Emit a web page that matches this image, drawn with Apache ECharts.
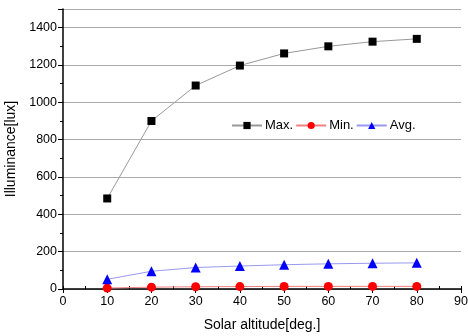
<!DOCTYPE html>
<html><head><meta charset="utf-8">
<script src="https://cdn.jsdelivr.net/npm/echarts@6/dist/echarts.min.js"></script>
<style>html,body{margin:0;padding:0;background:#fff}#c{width:468px;height:336px}</style>
</head><body><div id="c"></div>
<script>
const altitudes = [10, 20, 30, 40, 50, 60, 70, 80];
const maxVals = [485, 900, 1090, 1197, 1262, 1300, 1325, 1340];
const minVals = [5, 10, 12, 13, 14, 14, 14, 14];
const avgVals = [52, 95, 115, 123, 130, 135, 138, 140];
const seriesNames = ['Max.', 'Min.', 'Avg.'];

const pairs = v => altitudes.map((a, i) => [a, v[i]]);
const font = 'Liberation Sans, Arial, sans-serif';
const chart = echarts.init(document.getElementById('c'));
chart.setOption({
  animation: false,
  backgroundColor: '#fff',
  grid: {left: 63, right: 7, top: 9, bottom: 47, containLabel: false, outerBoundsMode: 'none'},
  legend: {
    left: 226, top: 114, itemWidth: 30, itemHeight: 9, itemGap: 2,
    textStyle: {fontFamily: font, fontSize: 13, color: '#000', padding: [0, 0, 0, -2]},
    data: seriesNames
  },
  xAxis: [{
    type: 'value', min: 0, max: 90, interval: 10,
    name: 'Solar altitude[deg.]', nameLocation: 'middle', nameGap: 29,
    nameTextStyle: {fontFamily: font, fontSize: 14, color: '#000'},
    axisLine: {onZero: false, lineStyle: {color: '#000', width: 1.5}},
    axisTick: {show: true, length: 4, lineStyle: {color: '#000'}},
    axisLabel: {fontFamily: font, fontSize: 12.5, color: '#000', margin: 6, formatter: v => String(v)},
    splitLine: {show: false}
  }, {
    type: 'value', min: 0, max: 90, interval: 5, position: 'bottom',
    axisLine: {show: false}, axisLabel: {show: false},
    axisTick: {show: true, inside: true, length: 3, lineStyle: {color: '#000'}},
    splitLine: {show: false}
  }],
  yAxis: {
    type: 'value', min: 0, max: 1500, interval: 200,
    name: 'Illuminance[lux]', nameLocation: 'middle', nameGap: 35,
    nameTextStyle: {fontFamily: font, fontSize: 14, color: '#000'},
    axisLine: {show: true, lineStyle: {color: '#000', width: 1.5}},
    axisTick: {show: true, length: 5, lineStyle: {color: '#000'}},
    minorTick: {show: true, splitNumber: 2, length: 3, lineStyle: {color: '#000'}},
    axisLabel: {fontFamily: font, fontSize: 12.5, color: '#000', margin: 6, showMaxLabel: false,
      formatter: v => (v % 200 === 0 ? String(v) : '')},
    splitLine: {show: true, lineStyle: {color: '#aaa', width: 1}}
  },
  series: [
    {name: seriesNames[0], type: 'line', data: pairs(maxVals), symbol: 'rect', symbolSize: 8,
     itemStyle: {color: '#000'}, lineStyle: {color: '#999', width: 1}},
    {name: seriesNames[1], type: 'line', data: pairs(minVals), symbol: 'circle', symbolSize: 9,
     itemStyle: {color: '#f00'}, lineStyle: {color: '#f08080', width: 1}},
    {name: seriesNames[2], type: 'line', data: pairs(avgVals), symbol: 'triangle', symbolSize: 10,
     itemStyle: {color: '#00f'}, lineStyle: {color: '#9999ee', width: 1}}
  ]
});
</script></body></html>
